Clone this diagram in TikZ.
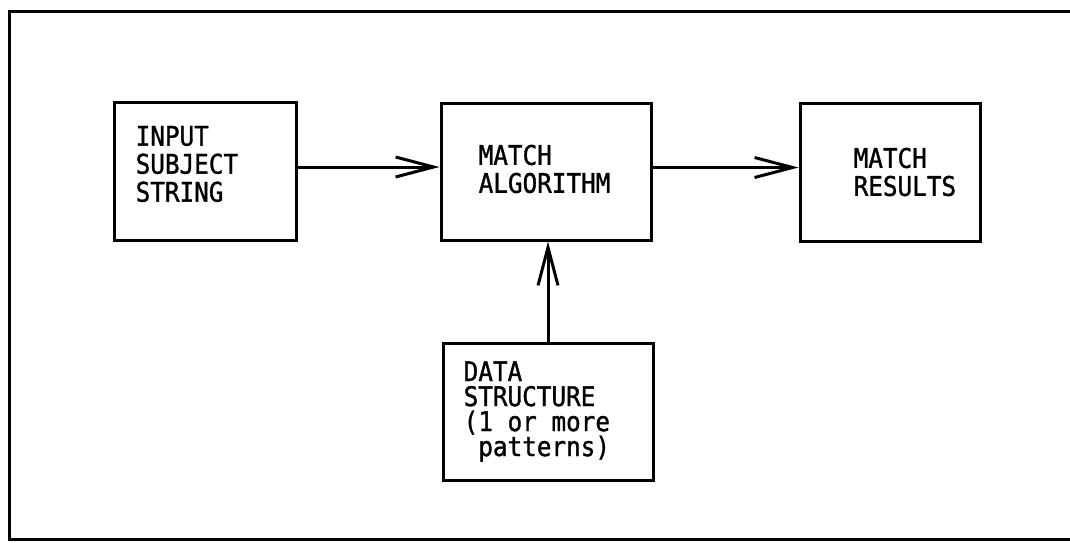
\documentclass[tikz,border=0pt]{standalone}
\usepackage{fontspec}
\usepackage{tikz}
\usetikzlibrary{arrows.meta}
\newfontfamily\typefont[FakeStretch=0.9, FakeBold=1.2]{DejaVu Sans Mono}
\tikzset{
    flow-box/.style = {draw=black, line width=3pt, rectangle, inner sep=0pt, minimum width=210pt, minimum height=137pt},
    flow-box-text/.style = {font=\typefont\fontsize{27}{28}\selectfont, align=left, inner sep=0pt},
    flow-arrow/.style = {draw=black, line width=3pt, -{Straight Barb[length=38pt, width=20pt]}},
}
\begin{document}
\begin{tikzpicture}[x=1pt, y=-1pt]
\useasboundingbox (0,0) rectangle (1070,542);
\clip (0,0) rectangle (1070,542);
\draw[line width=3pt] (1080,11) -- (9,11) -- (9,539) -- (1080,539);

\node [flow-box, minimum width=182pt, minimum height=138pt] (input) at (205,171) {};
\node [flow-box] (algorithm) at (546,171.5) {};
\node [flow-box, minimum width=180pt, minimum height=138pt] (results) at (890,172) {};
\node [flow-box] (data) at (548,411.5) {};

\node [flow-box-text, right=23pt, yshift=7pt] (input-text) at (input.west) {INPUT\\SUBJECT\\STRING};
\node [flow-box-text, right=39pt, yshift=2.5pt] (algorithm-text) at (algorithm.west) {MATCH\\ALGORITHM};
\node [flow-box-text, right=55pt] (results-text) at (results.west) {MATCH\\RESULTS};
\node [flow-box-text, right=22pt, font=\typefont\fontsize{27}{25}\selectfont] (data-text) at (data.west) {DATA\\STRUCTURE\\(1 or more\\\ patterns)};

\draw [flow-arrow] ([yshift=4pt]input.east) -- ([yshift=4pt]input.east -| algorithm.west);
\draw [flow-arrow] ([yshift=4pt]algorithm.east) -- ([yshift=4pt]algorithm.east -| results.west);
\draw [flow-arrow] (data.north) -- (data.north |- algorithm.south);
\end{tikzpicture}
\end{document}
